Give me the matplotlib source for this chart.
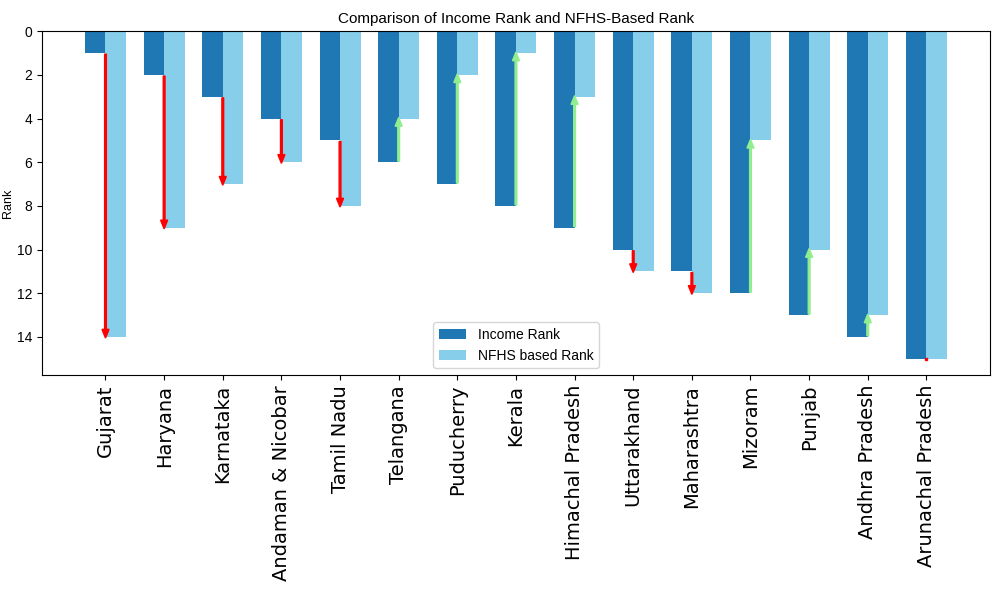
import numpy as np
import matplotlib
matplotlib.use("Agg")
import matplotlib.pyplot as plt

states = ["Gujarat", "Haryana", "Karnataka", "Andaman & Nicobar", "Tamil Nadu",
          "Telangana", "Puducherry", "Kerala", "Himachal Pradesh", "Uttarakhand",
          "Maharashtra", "Mizoram", "Punjab", "Andhra Pradesh", "Arunachal Pradesh"]
income_rank = [1, 2, 3, 4, 5, 6, 7, 8, 9, 10, 11, 12, 13, 14, 15]
nfhs_rank = [14, 9, 7, 6, 8, 4, 2, 1, 3, 11, 12, 5, 10, 13, 15]

narrow = "Liberation Sans"

fig = plt.figure(figsize=(9.97, 5.89), dpi=100)
ax = fig.add_axes([0.042, 0.363, 0.951, 0.584])

x = np.arange(len(states))
w = 0.35
ax.bar(x - w / 2, income_rank, w, color="#1f77b4", label="Income Rank")
ax.bar(x + w / 2, nfhs_rank, w, color="skyblue", label="NFHS based Rank")

for i in range(len(states)):
    diff = nfhs_rank[i] - income_rank[i]
    if diff == 0:
        # no change: just a tiny red mark
        ax.plot(x[i], income_rank[i], "s", color="red", ms=2, zorder=3)
        continue
    col = "red" if diff > 0 else "lightgreen"
    ax.arrow(x[i], income_rank[i] + (0.05 if diff > 0 else -0.05), 0, diff,
             width=0.03, head_width=0.12, head_length=0.4,
             length_includes_head=True, color=col, zorder=3)

ax.invert_yaxis()
ax.set_xticks(x)
ax.set_xticklabels(states, rotation=90, fontsize=14)
for t in ax.get_yticklabels():
    t.set_fontfamily(narrow)
    t.set_fontsize(10)
ax.set_ylabel("Rank", fontsize=9, family=narrow, labelpad=2)
ax.set_title("Comparison of Income Rank and NFHS-Based Rank", fontsize=11, family=narrow)
ax.legend(loc="lower center", prop={"family": narrow, "size": 10})

plt.savefig("out.png")
